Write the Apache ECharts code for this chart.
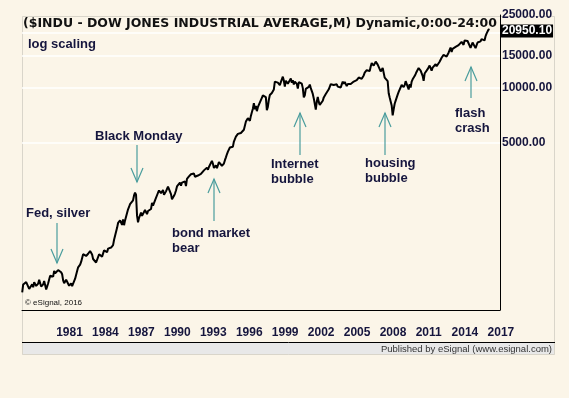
<!DOCTYPE html>
<html>
<head>
<meta charset="utf-8">
<script src="https://cdn.jsdelivr.net/npm/echarts@6/dist/echarts.min.js"></script>
<style>
html,body{margin:0;padding:0;background:#fbf5e8;}
#chart{width:569px;height:398px;}
</style>
</head>
<body>
<div id="chart"></div>
<script>
// Monthly closes of the Dow Jones Industrial Average, from March 1978
const startYear = 1978;
const startMonth = 3;
const dowClose = [
  757.4, 837.3, 840.6, 818.95, 862.3, 876.8, 865.8, 792.45, 799.0, 805.0,
  839.2, 808.8, 862.5, 854.9, 822.3, 842.0, 846.4, 887.6, 878.6, 815.7, 822.4, 838.7,
  875.9, 863.1, 785.8, 817.1, 850.9, 867.9, 935.3, 932.6, 932.4, 924.5, 993.3, 964.0,
  947.3, 974.6, 1003.9, 997.8, 991.8, 976.9, 952.3, 881.5, 850.0, 853.2, 889.0, 875.0,
  871.1, 824.4, 822.8, 848.4, 819.5, 811.9, 808.6, 901.3, 896.3, 991.7, 1039.3, 1046.5,
  1075.7, 1112.6, 1130.0, 1226.2, 1200.0, 1222.0, 1199.2, 1216.2, 1233.1, 1225.2, 1276.0, 1258.6,
  1220.6, 1154.6, 1164.9, 1170.8, 1104.9, 1132.4, 1115.3, 1224.4, 1206.7, 1207.4, 1188.9, 1211.6,
  1286.8, 1284.0, 1266.8, 1258.1, 1315.4, 1335.5, 1347.5, 1334.0, 1328.6, 1374.3, 1472.1, 1546.7,
  1571.0, 1709.1, 1818.6, 1784.0, 1876.7, 1892.7, 1775.3, 1898.3, 1767.6, 1877.8, 1914.2, 1896.0,
  2158.0, 2224.0, 2304.7, 2286.4, 2291.6, 2418.5, 2572.1, 2663.0, 2596.3, 1993.5, 1833.6, 1938.8,
  1958.2, 2071.6, 1988.1, 2032.3, 2031.1, 2141.7, 2128.7, 2031.7, 2112.9, 2148.7, 2114.5, 2168.6,
  2342.3, 2258.4, 2293.6, 2418.8, 2480.2, 2440.1, 2660.7, 2737.3, 2692.8, 2645.1, 2706.3, 2753.2,
  2590.5, 2627.3, 2707.2, 2656.8, 2876.7, 2880.7, 2905.2, 2614.4, 2452.5, 2442.3, 2559.7, 2633.7,
  2736.4, 2882.2, 2913.9, 2887.9, 3027.5, 2906.8, 3024.8, 3043.6, 3016.8, 3069.1, 2894.7, 3168.8,
  3223.4, 3267.7, 3235.5, 3359.1, 3396.9, 3318.5, 3393.8, 3257.4, 3271.7, 3226.3, 3305.2, 3301.1,
  3310.0, 3370.8, 3435.1, 3427.6, 3527.4, 3516.1, 3539.5, 3651.3, 3555.1, 3680.6, 3684.0, 3754.1,
  3978.4, 3832.0, 3636.0, 3681.7, 3758.4, 3625.0, 3764.5, 3913.4, 3843.2, 3908.1, 3739.2, 3834.4,
  3843.9, 4011.1, 4157.7, 4321.3, 4465.1, 4556.1, 4708.5, 4610.6, 4789.1, 4755.5, 5074.5, 5117.1,
  5395.3, 5485.6, 5587.1, 5569.1, 5643.2, 5654.6, 5528.9, 5616.2, 5882.2, 6029.4, 6521.7, 6448.3,
  6813.1, 6877.7, 6583.5, 7009.0, 7331.0, 7672.8, 8222.6, 7622.4, 7945.3, 7442.1, 7823.1, 7908.3,
  7906.5, 8545.7, 8799.8, 9063.4, 8900.0, 8952.0, 8883.3, 7539.1, 7842.6, 8592.1, 9116.6, 9181.4,
  9358.8, 9306.6, 9786.2, 10789.0, 10559.7, 10970.8, 10655.2, 10829.3, 10337.0, 10729.9, 10877.8, 11497.1,
  10940.5, 10128.3, 10921.9, 10733.9, 10522.3, 10447.9, 10522.0, 11215.1, 10650.9, 10971.1, 10414.5, 10788.0,
  10887.4, 10495.3, 9878.8, 10735.0, 10911.9, 10502.4, 10522.8, 9949.8, 8847.6, 9075.1, 9851.6, 10021.5,
  9920.0, 10106.1, 10403.9, 9946.2, 9925.3, 9243.3, 8736.6, 8663.5, 7591.9, 8397.0, 8896.1, 8341.6,
  8053.8, 7891.1, 7992.1, 8480.1, 8850.3, 8985.4, 9233.8, 9415.8, 9275.1, 9801.1, 9782.5, 10453.9,
  10488.1, 10583.9, 10357.7, 10225.6, 10188.5, 10435.5, 10139.7, 10173.9, 10080.3, 10027.5, 10428.0, 10783.0,
  10489.9, 10766.2, 10503.8, 10192.5, 10467.5, 10275.0, 10640.9, 10481.6, 10568.7, 10440.1, 10805.9, 10717.5,
  10864.9, 10993.4, 11109.3, 11367.1, 11168.3, 11150.2, 11185.7, 11381.2, 11679.1, 12080.7, 12221.9, 12463.2,
  12621.7, 12268.6, 12354.4, 13062.9, 13627.6, 13408.6, 13212.0, 13357.7, 13895.6, 13930.0, 13371.7, 13264.8,
  12650.4, 12266.4, 12262.9, 12820.1, 12638.3, 11350.0, 11378.0, 11543.6, 10850.7, 9325.0, 8829.0, 8776.4,
  8000.9, 7062.9, 7608.9, 8168.1, 8500.3, 8447.0, 9171.6, 9496.3, 9712.3, 9712.7, 10344.8, 10428.1,
  10067.3, 10325.3, 10856.6, 11008.6, 10136.6, 9774.0, 10465.9, 10014.7, 10788.1, 11118.5, 11006.0, 11577.5,
  11891.9, 12226.3, 12319.7, 12810.5, 12569.8, 12414.3, 12143.2, 11613.5, 10913.4, 11955.0, 12045.7, 12217.6,
  12632.9, 12952.1, 13212.0, 13213.6, 12393.5, 12880.1, 13008.7, 13090.8, 13437.1, 13096.5, 13025.6, 13104.1,
  13860.6, 14054.5, 14578.5, 14839.8, 15115.6, 14909.6, 15499.5, 14810.3, 15129.7, 15545.8, 16086.4, 16576.7,
  15698.9, 16321.7, 16457.7, 16580.8, 16717.2, 16826.6, 16563.3, 17098.5, 17042.9, 17390.5, 17828.2, 17823.1,
  17165.0, 18132.7, 17776.1, 17840.5, 18010.7, 17619.5, 17690.5, 16528.0, 16284.7, 17663.5, 17719.9, 17425.0,
  16466.3, 16516.5, 17685.1, 17773.6, 17787.2, 17930.0, 18432.2, 18400.9, 18308.2, 18142.4, 19123.6, 19762.6,
  19864.1, 20812.2, 20950.1
];
const yearTicks = [1981, 1984, 1987, 1990, 1993, 1996, 1999, 2002, 2005, 2008, 2011, 2014, 2017];
const priceTicks = [5000, 10000, 15000, 25000];
const gridValues = [5000, 10000, 15000, 20000];
const lastPrice = 20950.10;

const seriesData = dowClose.map((v, i) => [startYear + (startMonth - 1 + i) / 12, v]);

const navy = '#15153d';
const teal = '#4a9d9d';
const font = 'Liberation Sans, Arial, sans-serif';

function arrow(x, yTail, yTip) {
  const dir = yTip > yTail ? -1 : 1;
  return [
    { type: 'line', shape: { x1: x, y1: yTail, x2: x, y2: yTip }, style: { stroke: teal, lineWidth: 1.2 }, z: 10 },
    { type: 'polyline', shape: { points: [[x - 6, yTip + dir * 14], [x, yTip], [x + 6, yTip + dir * 14]] }, style: { stroke: teal, lineWidth: 1.2, fill: null }, z: 10 }
  ];
}
function label(x, y, text) {
  return { type: 'text', x: x, y: y, style: { text: text, fill: navy, font: 'bold 13px ' + font, textVerticalAlign: 'top', lineHeight: 15 }, z: 10 };
}

const chart = echarts.init(document.getElementById('chart'));
chart.setOption({
  backgroundColor: '#fbf5e8',
  animation: false,
  title: {
    text: '($INDU - DOW JONES INDUSTRIAL AVERAGE,M) Dynamic,0:00-24:00',
    left: 23, top: 17, padding: 0,
    textStyle: { fontSize: 12.5, fontWeight: 'bold', color: '#111', fontFamily: 'DejaVu Sans, Verdana, sans-serif' }
  },
  grid: { left: 22, right: 69, top: 15, bottom: 88 },
  xAxis: {
    type: 'value', min: 1978.15, max: 2018.04,
    axisLine: { show: true, lineStyle: { color: '#000', width: 1 } },
    axisTick: { show: false },
    splitLine: { show: false },
    axisLabel: {
      customValues: yearTicks, align: 'left', margin: 17,
      formatter: v => String(Math.round(v)),
      fontSize: 12, fontWeight: 'bold', color: navy, fontFamily: font
    }
  },
  yAxis: {
    type: 'log', logBase: 10, position: 'right', min: 607, max: 25000,
    axisLine: { show: true, lineStyle: { color: '#000', width: 1 } },
    axisTick: { show: false },
    splitLine: { show: false },
    axisLabel: {
      customValues: priceTicks, align: 'left', margin: 2,
      formatter: v => Number(v).toFixed(2),
      fontSize: 12, fontWeight: 'bold', color: navy, fontFamily: font
    }
  },
  series: [{
    type: 'line', data: seriesData, showSymbol: false, symbol: 'none',
    lineStyle: { color: '#000', width: 2 },
    z: 5,
    markLine: {
      silent: true, symbol: 'none', animation: false,
      data: gridValues.map(v => ({ yAxis: v, lineStyle: { color: '#ffffff', width: 1.5, type: 'solid' }, label: { show: false } }))
        .concat([{
          yAxis: lastPrice,
          lineStyle: { color: 'rgba(0,0,0,0)', width: 1 },
          label: {
            show: true, position: 'end', distance: 1, offset: [0, 2],
            formatter: () => lastPrice.toFixed(2),
            backgroundColor: '#000', color: '#fff', padding: [1, 1, 0, 1],
            fontSize: 12, fontWeight: 'bold', fontFamily: font
          }
        }])
    }
  }],
  graphic: [
    { type: 'rect', shape: { x: 22, y: 342, width: 533, height: 13 }, style: { fill: '#e8e8e8' }, z: -1 },
    { type: 'rect', shape: { x: 22.5, y: 16.5, width: 532, height: 338 }, style: { fill: null, stroke: '#d9d5ca', lineWidth: 1 }, z: 0 },
    { type: 'line', shape: { x1: 22, y1: 342.5, x2: 555, y2: 342.5 }, style: { stroke: '#000', lineWidth: 1 }, z: 1 },
    { type: 'text', x: 552, y: 349, style: { text: 'Published by eSignal (www.esignal.com)', fill: '#333', font: '9.5px Liberation Sans, Arial, sans-serif', textAlign: 'right', textVerticalAlign: 'middle' }, z: 2 },
    { type: 'text', x: 25, y: 303, style: { text: '© eSignal, 2016', fill: '#111', font: '8px ' + font, textVerticalAlign: 'middle' }, z: 10 },
    { type: 'text', x: 28, y: 44, style: { text: 'log scaling', fill: navy, font: 'bold 13px ' + font, textVerticalAlign: 'middle' }, z: 10 },
    label(26, 206, 'Fed, silver'),
    ...arrow(57, 223, 263),
    label(95, 129, 'Black Monday'),
    ...arrow(137, 145, 182),
    label(172, 226, 'bond market\nbear'),
    ...arrow(214, 221, 179),
    label(271, 157, 'Internet\nbubble'),
    ...arrow(300, 155, 113),
    label(365, 156, 'housing\nbubble'),
    ...arrow(385, 155, 113),
    label(455, 106, 'flash\ncrash'),
    ...arrow(471, 98, 67)
  ]
});
</script>
</body>
</html>
